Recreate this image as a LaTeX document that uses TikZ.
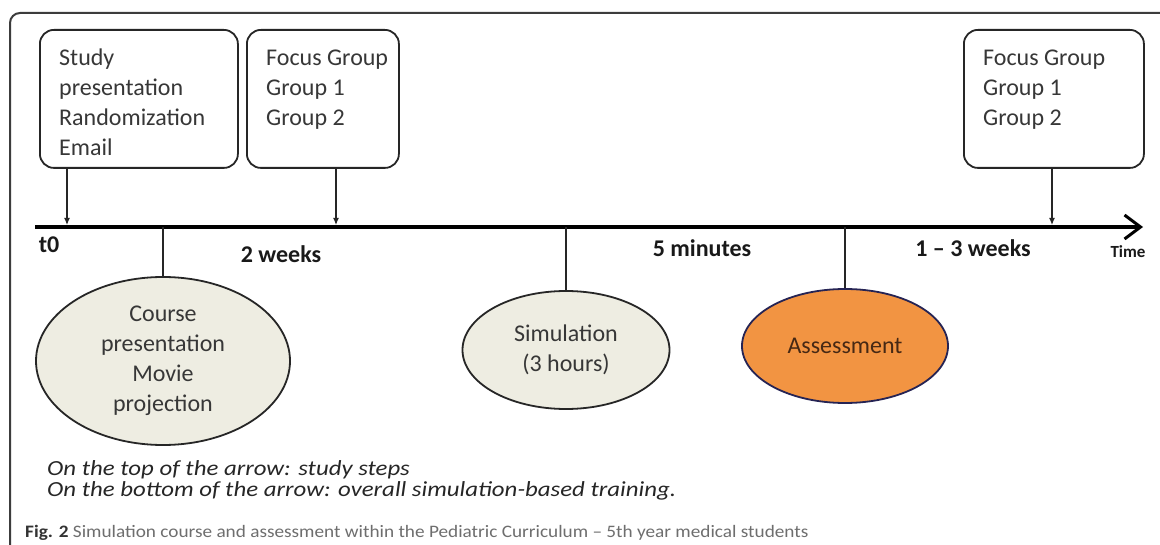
\documentclass[tikz,border=0pt]{standalone}
\usepackage{fontspec}
\setmainfont{Carlito}
\newfontfamily\notefont[FakeStretch=1.155]{Carlito}
\newfontfamily\capfont[FakeStretch=1.1]{Carlito}
\usetikzlibrary{shapes.geometric,arrows.meta}
\definecolor{beige}{RGB}{238,237,226}
\definecolor{orangefill}{RGB}{242,148,66}
\definecolor{navy}{RGB}{38,36,84}
\definecolor{txt}{RGB}{55,55,55}
\definecolor{asstxt}{RGB}{70,40,20}
\definecolor{capgrey}{RGB}{110,110,110}
\definecolor{framegrey}{RGB}{60,60,60}
\begin{document}
\begin{tikzpicture}[x=1pt,y=-1pt,
  box/.style={draw=black!85, line width=1.8pt, rounded corners=14pt, anchor=north west, minimum height=138pt, inner sep=0pt},
  boxtext/.style={anchor=north west, align=left, inner sep=0pt, xshift=20pt, yshift=-15pt, font=\fontsize{24}{30}\selectfont, text=txt},
  ell/.style={ellipse, draw=black!85, line width=1.8pt, fill=beige, inner sep=0pt, align=center, font=\fontsize{24}{30}\selectfont, text=txt},
  tick/.style={line width=2pt, draw=black!85},
  down/.style={line width=1.2pt, draw=black!85, -{Latex[length=7pt,width=6pt]}},
  timeline/.style={line width=3.5pt, draw=black, -{Straight Barb[length=16pt,width=24pt,line width=3pt]}},
  lbl/.style={anchor=base, font=\bfseries\fontsize{24}{28}\selectfont, inner sep=0pt, text=black!90},
  note/.style={anchor=base west, inner sep=0pt, font=\notefont\itshape\fontsize{21.5}{24}\selectfont, text=black!85}
]
\useasboundingbox (0,0) rectangle (1160,545);
\fill[white] (0,0) rectangle (1160,545);
\draw[framegrey, line width=2pt, rounded corners=10pt] (10,548) -- (10,13) -- (1163,13);

% study-step boxes
\node[box, minimum width=198pt, label={[boxtext]north west:{\strut Study\\presentation\\Randomization\\Email}}] (b1) at (39,29) {};
\node[box, minimum width=152pt, label={[boxtext]north west:{\strut Focus Group\\Group 1\\Group 2}}] (b2) at (246,29) {};
\node[box, minimum width=180pt, label={[boxtext]north west:{\strut Focus Group\\Group 1\\Group 2}}] (b3) at (963,29) {};

% timeline
\coordinate (tl0) at (35,227);
\coordinate (tl1) at (1143,227);
\draw[timeline] (tl0) -- (tl1);

\coordinate (a1) at (67,225);
\coordinate (a2) at (336,225);
\coordinate (a3) at (1052,225);
\draw[down] (b1.south -| a1) -- (a1);
\draw[down] (b2.south -| a2) -- (a2);
\draw[down] (b3.south -| a3) -- (a3);

% training ellipses
\node[ell, minimum width=254pt, minimum height=168pt] (e1) at (163,361) {Course\\presentation\\Movie\\projection};
\node[ell, minimum width=207pt, minimum height=118pt] (e2) at (566,350) {Simulation\\(3 hours)};
\node[ell, fill=orangefill, draw=navy, text=asstxt, minimum width=206pt, minimum height=114pt] (e3) at (845,346) {Assessment};

\coordinate (c1) at (163,227);
\coordinate (c2) at (566,227);
\coordinate (c3) at (845,227);
\draw[tick] (c1) -- (e1.north);
\draw[tick] (c2) -- (e2.north);
\draw[tick] (c3) -- (e3.north);

% time labels
\node[lbl] (lt0) at (49,253) {t0};
\node[lbl] (l2w) at (281,263) {2 weeks};
\node[lbl] (l5m) at (702,257) {5 minutes};
\node[lbl] (l13w) at (973,257) {1 – 3 weeks};
\node[lbl, font=\bfseries\fontsize{17}{20}\selectfont] (ltime) at (1128,258) {Time};

% notes
\node[note] (n1) at (47,475) {On the top of the arrow: study steps};
\node[note] (n2) at (47,496) {On the bottom of the arrow: overall simulation-based training.};

% caption
\node[anchor=base west, inner sep=0pt, font=\capfont\fontsize{17.5}{20}\selectfont, text=capgrey] (cap) at (25,537) {\textcolor{black!80}{\bfseries Fig. 2} Simulation course and assessment within the Pediatric Curriculum – 5th year medical students};
\end{tikzpicture}
\end{document}
